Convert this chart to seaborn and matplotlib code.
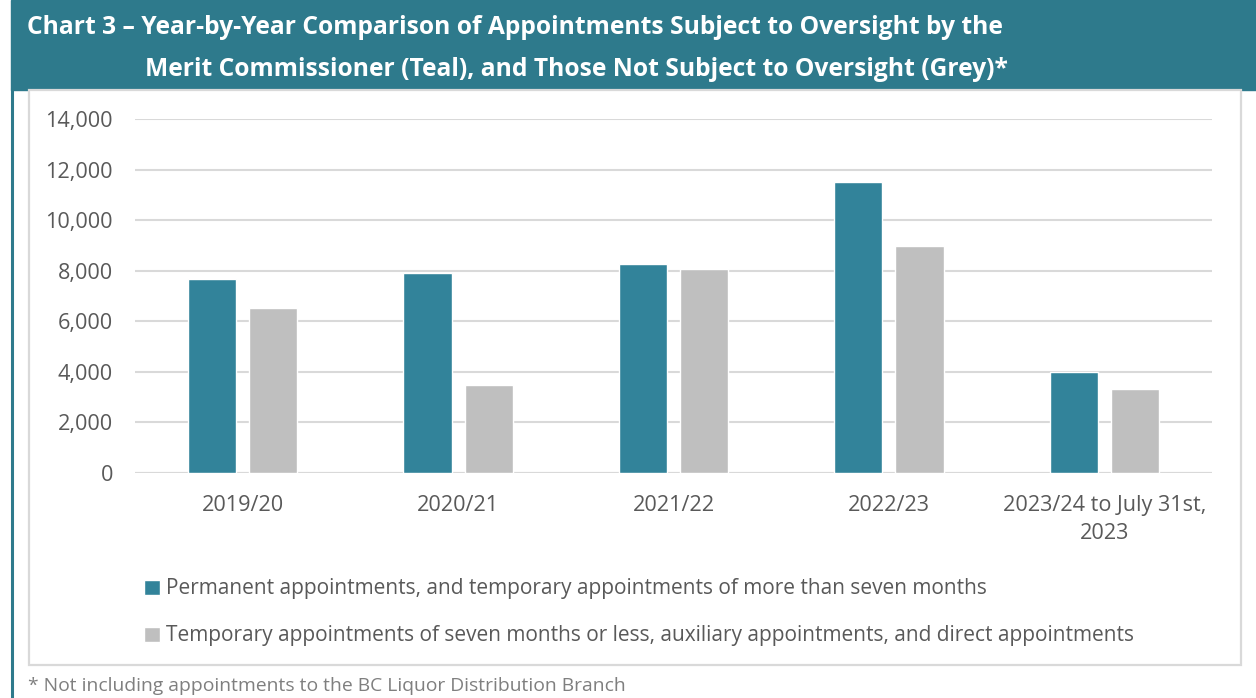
import matplotlib
matplotlib.use("Agg")
import matplotlib.pyplot as plt
from matplotlib.patches import Rectangle
from matplotlib.lines import Line2D
import seaborn as sns
import pandas as pd

categories = ["2019/20", "2020/21", "2021/22", "2022/23", "2023/24 to July 31st,\n2023"]
series_names = [
    "Permanent appointments, and temporary appointments of more than seven months",
    "Temporary appointments of seven months or less, auxiliary appointments, and direct appointments",
]
teal_values = [7660, 7900, 8250, 11500, 4000]
grey_values = [6510, 3470, 8060, 8970, 3340]
y_ticks = [0, 2000, 4000, 6000, 8000, 10000, 12000, 14000]

TEAL = "#32839A"
HEADER = "#2E7A8C"
GREY = "#BFBFBF"
TXT = "#595959"
GRID = "#D9D9D9"

df = pd.DataFrame({
    "Year": categories * 2,
    "Series": [series_names[0]] * len(categories) + [series_names[1]] * len(categories),
    "Value": teal_values + grey_values,
})

sns.set_theme(style="white")
plt.rcParams["font.family"] = ["Open Sans", "DejaVu Sans"]

W, H = 1256, 698
fig = plt.figure(figsize=(W / 100, H / 100), dpi=100)

def fx(px):
    return px / W

def fy(py):
    return 1 - py / H

# header band
fig.patches.append(Rectangle((fx(11), fy(90)), fx(1256 - 11), 90 / H,
                             transform=fig.transFigure, color=HEADER, zorder=-2))
# left teal vertical line
fig.lines.append(Line2D([fx(12), fx(12)], [0, fy(88)], transform=fig.transFigure,
                        color=HEADER, lw=2.2, zorder=-2))
# inner grey box
fig.patches.append(Rectangle((fx(29), fy(665)), fx(1241 - 29), (665 - 90) / H,
                             transform=fig.transFigure, facecolor="white",
                             edgecolor=GRID, lw=1.6, zorder=-1))

fig.text(fx(27), fy(27), "Chart 3 \u2013 Year-by-Year Comparison of Appointments Subject to Oversight by the",
         color="white", fontsize=17.7, fontweight="bold", va="center", ha="left")
fig.text(fx(145), fy(70), "Merit Commissioner (Teal), and Those Not Subject to Oversight (Grey)*",
         color="white", fontsize=17.7, fontweight="bold", va="center", ha="left")

ax = fig.add_axes([fx(135), fy(473), fx(1212 - 135), (473 - 119) / H])
ax.set_zorder(2)
ax.set_facecolor("none")
sns.barplot(data=df, x="Year", y="Value", hue="Series", order=categories,
            hue_order=series_names, palette=[TEAL, GREY], width=0.567, gap=0.21,
            saturation=1, ax=ax, legend=True)

ax.set_ylim(0, 14000)
ax.set_yticks(y_ticks)
ax.set_yticklabels([f"{v:,}" for v in y_ticks])
ax.set_xlim(-0.5, len(categories) - 0.5)
ax.grid(axis="y", color=GRID, lw=1.5)
ax.set_axisbelow(True)
for s in ax.spines.values():
    s.set_visible(False)
ax.axhline(0, color=GRID, lw=1.5, zorder=0.5)
ax.set_xlabel("")
ax.set_ylabel("")
ax.tick_params(axis="both", length=0, colors=TXT, labelsize=15.6)
ax.tick_params(axis="y", pad=16)
ax.tick_params(axis="x", pad=16)
for lab in ax.get_xticklabels() + ax.get_yticklabels():
    lab.set_color(TXT)
for lab in ax.get_xticklabels():
    lab.set_linespacing(1.4)

handles, labels = ax.get_legend_handles_labels()
ax.get_legend().remove()
leg = fig.legend(handles, labels, loc="upper left", bbox_to_anchor=(fx(134), fy(568)),
                 frameon=False, ncol=1, fontsize=15, labelcolor=TXT,
                 handlelength=0.75, handleheight=0.75, handletextpad=0.3,
                 labelspacing=1.25, borderpad=0)
leg.set_zorder(3)

fig.text(fx(28), fy(686), "* Not including appointments to the BC Liquor Distribution Branch",
         color="#7F7F7F", fontsize=13.9, va="center", ha="left")

fig.savefig("out.png", dpi=100)
